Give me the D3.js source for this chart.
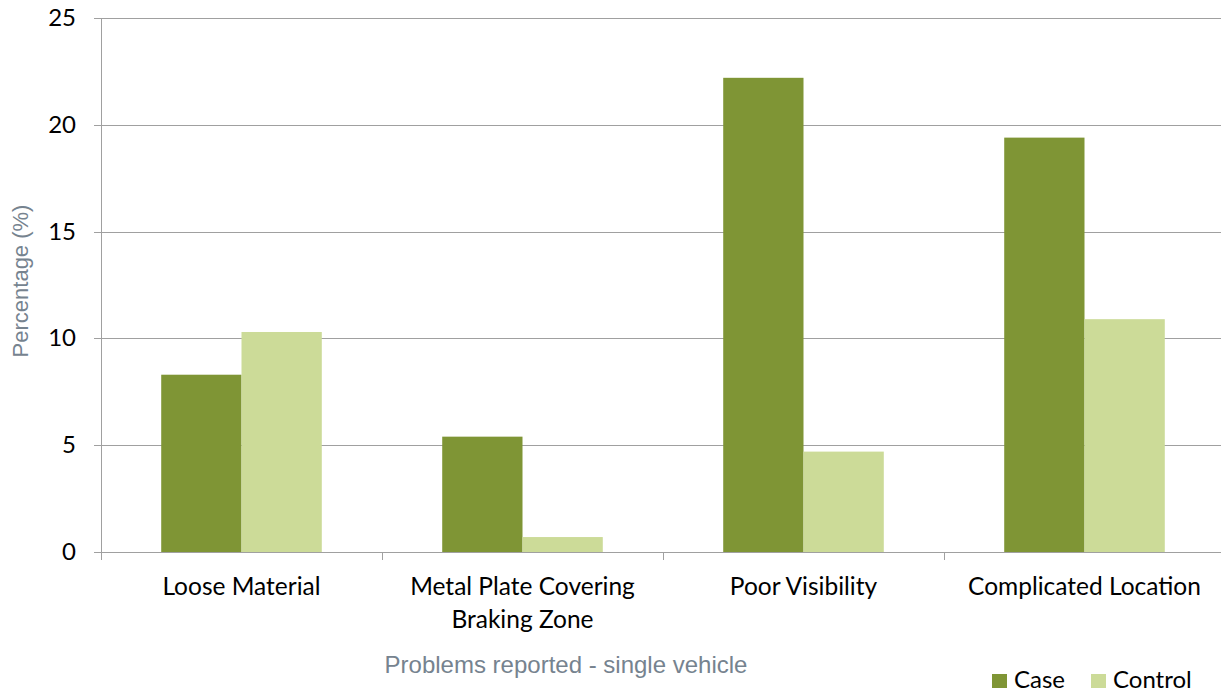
<!DOCTYPE html>
<html>
<head>
<meta charset="utf-8">
<script src="https://cdn.jsdelivr.net/npm/d3@7"></script>
<style>
  html, body { margin: 0; padding: 0; background: #fff; }
  svg { display: block; }
</style>
</head>
<body>
<svg id="chart" width="1221" height="693"></svg>
<script>
// Problems reported by single-vehicle crashes: case vs control percentages
const categories = [
  ["Loose Material"],
  ["Metal Plate Covering", "Braking Zone"],
  ["Poor Visibility"],
  ["Complicated Location"]
];
const seriesNames = ["Case", "Control"];
const caseValues = [8.3, 5.4, 22.2, 19.4];
const controlValues = [10.3, 0.7, 4.7, 10.9];
const yTicks = [0, 5, 10, 15, 20, 25];

const colors = { Case: "#7f9535", Control: "#ccdb98" };
const tickFont = "Lato, 'Open Sans', sans-serif";
const titleFont = "'Liberation Sans', Arial, sans-serif";

const svg = d3.select("#chart");
const W = 1221, H = 693;
const plotLeft = 101, plotRight = 1225, plotTop = 18, plotBottom = 552;

const keys = categories.map((c, i) => i);
const x = d3.scaleBand().domain(keys).range([plotLeft, plotRight]).paddingInner(0).paddingOuter(0);
// two adjacent bars per category, with gap on each side
const xs = d3.scaleBand().domain(seriesNames).range([0, x.bandwidth()]).paddingInner(0).paddingOuter(0.75);
const y = d3.scaleLinear().domain([0, 25]).range([plotBottom, plotTop]);

// horizontal gridlines
svg.append("g")
  .selectAll("line")
  .data(yTicks)
  .join("line")
  .attr("x1", plotLeft - 7)
  .attr("x2", W)
  .attr("y1", d => Math.round(y(d)) + 0.5)
  .attr("y2", d => Math.round(y(d)) + 0.5)
  .attr("stroke", "#a0a0a0")
  .attr("stroke-width", 1);

// bars
const rows = keys.map(i => ({ i, Case: caseValues[i], Control: controlValues[i] }));
const groups = svg.append("g").selectAll("g")
  .data(rows)
  .join("g")
  .attr("transform", d => `translate(${x(d.i)},0)`);
groups.selectAll("rect")
  .data(d => seriesNames.map(s => ({ s, v: d[s] })))
  .join("rect")
  .attr("x", d => xs(d.s))
  .attr("width", xs.bandwidth())
  .attr("y", d => y(d.v))
  .attr("height", d => y(0) - y(d.v))
  .attr("fill", d => colors[d.s]);

// y axis line
svg.append("line")
  .attr("x1", plotLeft + 0.5).attr("x2", plotLeft + 0.5)
  .attr("y1", plotTop).attr("y2", y(0) + 8)
  .attr("stroke", "#a0a0a0");

// x axis baseline and category ticks
svg.append("line")
  .attr("x1", plotLeft).attr("x2", W)
  .attr("y1", Math.round(y(0)) + 0.5).attr("y2", Math.round(y(0)) + 0.5)
  .attr("stroke", "#a0a0a0");
svg.append("g").selectAll("line")
  .data(keys.slice(1))
  .join("line")
  .attr("x1", d => Math.round(x(d)) + 0.5)
  .attr("x2", d => Math.round(x(d)) + 0.5)
  .attr("y1", y(0))
  .attr("y2", y(0) + 8)
  .attr("stroke", "#a0a0a0");

// y tick labels
svg.append("g").selectAll("text")
  .data(yTicks)
  .join("text")
  .attr("x", 76)
  .attr("y", d => y(d) + 8)
  .attr("text-anchor", "end")
  .attr("font-family", tickFont)
  .attr("font-size", 24)
  .attr("fill", "#000")
  .text(d => d);

// category labels
const catLabels = svg.append("g").selectAll("text")
  .data(keys)
  .join("text")
  .attr("x", d => x(d) + x.bandwidth() / 2)
  .attr("y", 595)
  .attr("text-anchor", "middle")
  .attr("font-family", tickFont)
  .attr("font-size", 24.5)
  .attr("fill", "#000");
catLabels.selectAll("tspan")
  .data(d => categories[d])
  .join("tspan")
  .attr("x", function() { return d3.select(this.parentNode).attr("x"); })
  .attr("dy", (d, i) => i === 0 ? 0 : 33)
  .text(d => d);

// axis titles
svg.append("text")
  .attr("transform", `translate(28,281) rotate(-90)`)
  .attr("text-anchor", "middle")
  .attr("font-family", titleFont)
  .attr("font-size", 22)
  .attr("fill", "#76838f")
  .text("Percentage (%)");
svg.append("text")
  .attr("x", 566)
  .attr("y", 673)
  .attr("text-anchor", "middle")
  .attr("font-family", titleFont)
  .attr("font-size", 24)
  .attr("fill", "#76838f")
  .text("Problems reported - single vehicle");

// legend
const legendX = [992, 1091];
const legend = svg.append("g").selectAll("g")
  .data(seriesNames)
  .join("g")
  .attr("transform", (d, i) => `translate(${legendX[i]},674)`);
legend.append("rect")
  .attr("width", 15).attr("height", 14)
  .attr("fill", d => colors[d]);
legend.append("text")
  .attr("x", 22).attr("y", 14)
  .attr("font-family", tickFont)
  .attr("font-size", 24)
  .attr("fill", "#000")
  .text(d => d);
</script>
</body>
</html>
